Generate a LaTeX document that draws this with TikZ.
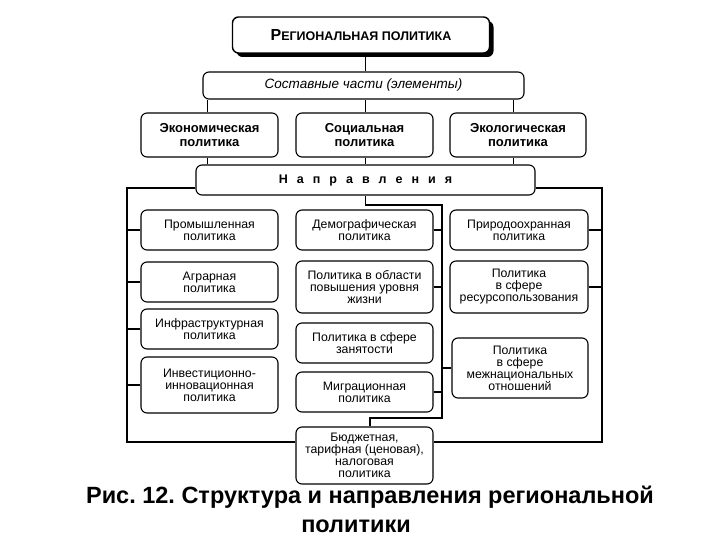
\documentclass[tikz,border=0pt]{standalone}
\usepackage{fontspec}
\setmainfont{Liberation Sans}
\usetikzlibrary{shadows}
\newcommand{\lsp}{\hskip 9pt}
\begin{document}
\frenchspacing
\begin{tikzpicture}[x=1pt,y=-1pt,
  box/.style={draw, line width=1.1pt, rounded corners=6pt, align=center, inner sep=0pt,
    font=\fontsize{12.3}{12}\selectfont},
  bbox/.style={box, font=\bfseries\fontsize{13}{14}\selectfont},
  bus/.style={line width=1.2pt},
  thin/.style={line width=0.9pt}]
\useasboundingbox[fill=white] (0,0) rectangle (720,540);

% top
\node[box, line width=1.4pt, fill=white, minimum width=257pt, minimum height=36pt,
  general shadow={fill=black, shadow xshift=4pt, shadow yshift=-4pt}] (top) at (361,35)
  {\bfseries\fontsize{16}{16}\selectfont Р\fontsize{12.5}{16}\selectfont ЕГИОНАЛЬНАЯ ПОЛИТИКА};
\node[box, minimum width=321pt, minimum height=27pt] (comp) at (363.5,85.5)
  {\itshape\fontsize{13.5}{14}\selectfont Составные части (элементы)};

\node[bbox, minimum width=137pt, minimum height=44pt] (econ) at (209.5,135) {Экономическая\\политика};
\node[bbox, minimum width=137pt, minimum height=44pt] (soc) at (364.5,135) {Социальная\\политика};
\node[bbox, minimum width=136pt, minimum height=44pt] (ecol) at (518,135) {Экологическая\\политика};

\node[box, minimum width=339pt, minimum height=30pt] (napr) at (365.5,180)
  {\bfseries\fontsize{12.5}{13}\selectfont Н\lsp а\lsp п\lsp р\lsp а\lsp в\lsp л\lsp е\lsp н\lsp и\lsp я};

% left column
\node[box, minimum width=137pt, minimum height=40pt] (prom) at (209.5,230) {Промышленная\\политика};
\node[box, minimum width=137pt, minimum height=40pt] (agr) at (209.5,282) {Аграрная\\политика};
\node[box, minimum width=137pt, minimum height=40pt] (infra) at (209.5,329) {Инфраструктурная\\политика};
\node[box, minimum width=137pt, minimum height=56pt] (inv) at (209.5,385) {Инвестиционно-\\инновационная\\политика};

% middle column
\node[box, minimum width=137pt, minimum height=40pt] (demo) at (364.5,230) {Демографическая\\политика};
\node[box, minimum width=137pt, minimum height=52pt] (life) at (364.5,287) {Политика в области\\повышения уровня\\жизни};
\node[box, minimum width=137pt, minimum height=40pt] (empl) at (364.5,343) {Политика в сфере\\занятости};
\node[box, minimum width=137pt, minimum height=40pt] (migr) at (364.5,392) {Миграционная\\политика};
\node[box, minimum width=137pt, minimum height=57pt] (budget) at (364.5,455.5) {Бюджетная,\\тарифная (ценовая),\\налоговая\\политика};

% right column
\node[box, minimum width=138pt, minimum height=40pt] (nature) at (519,230) {Природоохранная\\политика};
\node[box, minimum width=138pt, minimum height=52pt] (res) at (519,287) {Политика\\в сфере\\ресурсопользования};
\node[box, minimum width=136pt, minimum height=60pt] (nat) at (520,368) {Политика\\в сфере\\межнациональных\\отношений};

% coordinates
\coordinate (Ltop) at (127,188);
\coordinate (Lbot) at (127,442);
\coordinate (Rtop) at (602,188);
\coordinate (Rbot) at (602,442);
\coordinate (Mtop) at (442,205);
\coordinate (Mbot) at (442,418);
\coordinate (Bt) at (370,418);

% upper connectors
\draw[thin] (top.south -| 365,0) -- (comp.north -| 365,0);
\foreach \n/\xx in {econ/207,soc/365,ecol/513}{
  \draw[thin] (comp.south -| \xx,0) -- (\n.north -| \xx,0);
  \draw[thin] (\n.south -| \xx,0) -- (napr.north -| \xx,0);
}

% left bus
\draw[bus] (napr.west |- Ltop) -- (Ltop) -- (Lbot) -- (budget.west |- Lbot);
\foreach \n in {prom,agr,infra,inv} \draw[bus] (\n.west) -- (\n.west -| Ltop);
% right bus
\draw[bus] (napr.east |- Rtop) -- (Rtop) -- (Rbot) -- (budget.east |- Rbot);
\foreach \n in {nature,res} \draw[bus] (\n.east) -- (\n.east -| Rtop);
% middle bus
\draw[bus] (napr.south) |- (Mtop) -- (Mbot) -- (Bt) -- (Bt |- budget.north);
\foreach \n in {demo,life,migr} \draw[bus] (\n.east) -- (\n.east -| Mtop);
\draw[bus] (nat.west) -- (nat.west -| Mtop);

% caption
\node[font=\bfseries\fontsize{23.5}{26}\selectfont, inner sep=0pt] (cap1) at (370,497) {Рис. 12. Структура и направления региональной};
\node[font=\bfseries\fontsize{23.5}{26}\selectfont, inner sep=0pt] (cap2) at (356,526) {политики};
\end{tikzpicture}
\end{document}
